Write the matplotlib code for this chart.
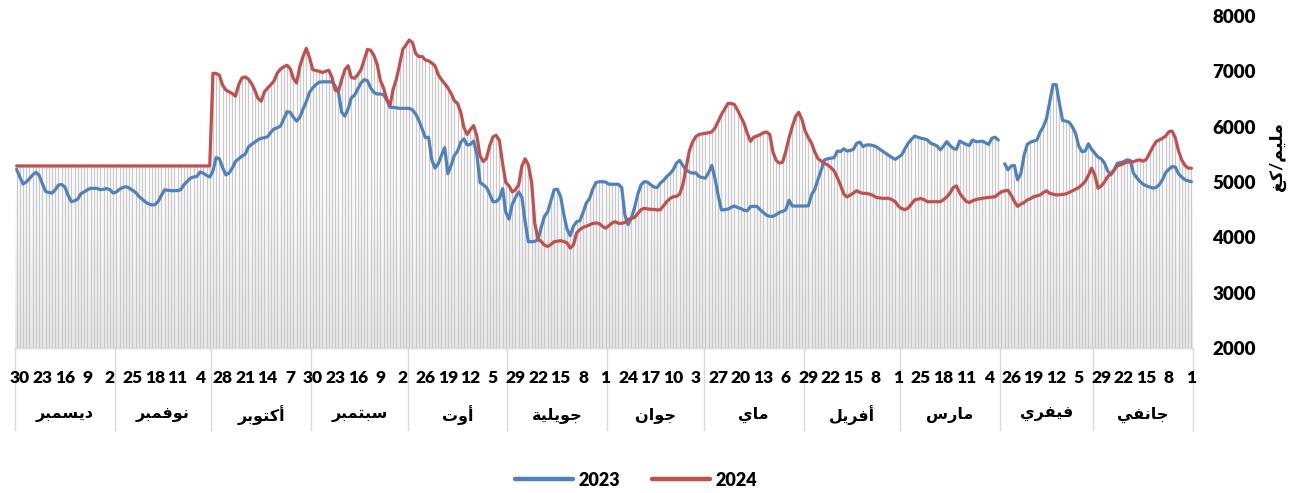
import numpy as np
import matplotlib
matplotlib.use("Agg")
import matplotlib.pyplot as plt
from matplotlib.colors import LinearSegmentedColormap
from matplotlib.lines import Line2D
import matplotlib.transforms as mtransforms

plt.rcParams['font.family'] = ['Lato', 'DejaVu Sans']

nan = np.nan

months = ['جانفي', 'فيفري', 'مارس', 'أفريل', 'ماي', 'جوان',
          'جويلية', 'أوت', 'سبتمبر', 'أكتوبر', 'نوفمبر', 'ديسمبر']
month_days = [31, 29, 31, 30, 31, 30, 31, 31, 30, 31, 30, 31]

day_ticks = [1, 8, 15, 22, 29, 5, 12, 19, 26, 4, 11, 18, 25,
             1, 8, 15, 22, 29, 6, 13, 20, 27, 3, 10, 17, 24,
             1, 8, 15, 22, 29, 5, 12, 19, 26, 2, 9, 16, 23, 30,
             7, 14, 21, 28, 4, 11, 18, 25, 2, 9, 16, 23, 30]

y_label = 'مليم/كغ'
series_names = ['2023', '2024']

values_2023 = [
    5005, 5020, 5040, 5090, 5150, 5270, 5280, 5230, 5170, 5040,
    4950, 4900, 4890, 4910, 4930, 4960, 5010, 5080, 5160, 5390,
    5400, 5370, 5350, 5340, 5220, 5130, 5200, 5340, 5420, 5450,
    5520, 5590, 5690, 5560, 5550, 5650, 5880, 6000, 6080, 6100,
    6110, 6420, 6760, 6760, 6450, 6150, 6000, 5900, 5760, 5740,
    5720, 5680, 5480, 5150, 5040, 5300, 5290, 5220, 5330, nan,
    5760, 5810, 5790, 5680, 5710, 5740, 5730, 5730, 5760, 5660,
    5680, 5710, 5740, 5590, 5610, 5660, 5730, 5650, 5580, 5650,
    5680, 5700, 5760, 5780, 5790, 5810, 5830, 5770, 5700, 5600,
    5490, 5450, 5410, 5440, 5480, 5520, 5560, 5600, 5640, 5660,
    5670, 5670, 5640, 5720, 5700, 5590, 5570, 5560, 5600, 5550,
    5560, 5440, 5430, 5420, 5400, 5220, 5050, 4870, 4770, 4570,
    4566, 4566, 4566, 4566, 4566, 4670, 4500, 4470, 4450, 4410,
    4380, 4380, 4400, 4450, 4500, 4560, 4560, 4555, 4480, 4490,
    4520, 4540, 4566, 4540, 4510, 4500, 4494, 4750, 5060, 5300,
    5170, 5070, 5080, 5100, 5165, 5160, 5180, 5220, 5300, 5390,
    5340, 5220, 5150, 5100, 5030, 4980, 4900, 4910, 4950, 5000,
    5005, 4950, 4780, 4540, 4350, 4230, 4400, 4900, 4958, 4958,
    4958, 4960, 5000, 5005, 5005, 4990, 4870, 4700, 4620, 4450,
    4300, 4283, 4200, 4030, 4150, 4420, 4740, 4870, 4860, 4660,
    4460, 4380, 4180, 3960, 3925, 3921, 3921, 4280, 4720, 4820,
    4720, 4600, 4330, 4450, 4880, 4700, 4644, 4644, 4780, 4900,
    4950, 4990, 5500, 5740, 5680, 5670, 5780, 5720, 5560, 5480,
    5300, 5150, 5620, 5480, 5330, 5250, 5400, 5810, 5800, 5960,
    6110, 6230, 6300, 6331, 6331, 6331, 6331, 6340, 6349, 6350,
    6480, 6580, 6590, 6590, 6620, 6700, 6830, 6850, 6790, 6680,
    6570, 6520, 6320, 6190, 6260, 6620, 6730, 6812, 6812, 6812,
    6810, 6805, 6760, 6700, 6620, 6450, 6320, 6170, 6100, 6170,
    6260, 6270, 6140, 6010, 5980, 5960, 5900, 5820, 5800, 5790,
    5765, 5720, 5680, 5630, 5500, 5470, 5420, 5370, 5250, 5160,
    5130, 5260, 5420, 5440, 5200, 5090, 5120, 5160, 5180, 5100,
    5090, 5070, 5010, 4950, 4860, 4845, 4843, 4843, 4850, 4860,
    4760, 4650, 4590, 4585, 4605, 4640, 4690, 4740, 4810, 4850,
    4890, 4915, 4900, 4870, 4820, 4800, 4860, 4880, 4870, 4860,
    4885, 4886, 4886, 4860, 4820, 4790, 4690, 4660, 4645, 4760,
    4910, 4955, 4945, 4860, 4800, 4810, 4830, 4970, 5120, 5175,
    5130, 5060, 5000, 4965, 5090, 5230,
]

values_2024 = [
    5250, 5250, 5300, 5400, 5560, 5800, 5920, 5910, 5830, 5790,
    5760, 5730, 5630, 5520, 5410, 5375, 5400, 5390, 5367, 5367,
    5360, 5337, 5310, 5290, 5220, 5150, 5100, 5000, 4930, 4886,
    5126, 5250, 5120, 5010, 4950, 4900, 4870, 4840, 4810, 4785,
    4775, 4770, 4765, 4780, 4795, 4840, 4810, 4765, 4750, 4734,
    4700, 4675, 4630, 4600, 4560, 4650, 4760, 4850, 4840, 4825,
    4780, 4734, 4728, 4723, 4715, 4705, 4695, 4680, 4660, 4630,
    4650, 4720, 4800, 4930, 4900, 4800, 4730, 4680, 4644, 4644,
    4644, 4644, 4644, 4680, 4700, 4690, 4675, 4600, 4530, 4500,
    4520, 4560, 4644, 4680, 4705, 4705, 4705, 4715, 4723, 4760,
    4780, 4795, 4795, 4810, 4843, 4800, 4765, 4730, 4780, 4940,
    5080, 5200, 5260, 5307, 5340, 5380, 5420, 5540, 5700, 5800,
    5920, 6130, 6260, 6180, 6000, 5800, 5560, 5360, 5340, 5390,
    5540, 5860, 5905, 5890, 5855, 5830, 5810, 5735, 5880, 6060,
    6180, 6300, 6400, 6421, 6421, 6320, 6220, 6100, 5980, 5905,
    5890, 5879, 5870, 5860, 5820, 5720, 5560, 5250, 4950, 4780,
    4740, 4734, 4700, 4644, 4570, 4500, 4495, 4506, 4506, 4515,
    4524, 4500, 4430, 4360, 4340, 4325, 4270, 4253, 4253, 4283,
    4260, 4210, 4165, 4200, 4250, 4260, 4250, 4225, 4200, 4180,
    4140, 4080, 3860, 3805, 3900, 3925, 3939, 3930, 3921, 3870,
    3835, 3860, 3925, 3970, 4250, 5000, 5310, 5420, 5290, 4950,
    4860, 4820, 4930, 4990, 5330, 5750, 5845, 5815, 5660, 5430,
    5370, 5470, 5830, 6020, 5950, 5860, 5980, 6260, 6420, 6470,
    6600, 6700, 6780, 6850, 6940, 7100, 7150, 7190, 7204, 7270,
    7265, 7320, 7520, 7566, 7480, 7400, 7120, 6860, 6680, 6380,
    6500, 6700, 6840, 7130, 7290, 7380, 7397, 7210, 7030, 6940,
    6873, 6890, 7100, 7030, 6850, 6640, 6660, 6890, 7020, 7000,
    6980, 7000, 7015, 7030, 7250, 7415, 7270, 7090, 6790, 6870,
    7050, 7110, 7083, 7040, 6970, 6830, 6760, 6700, 6630, 6460,
    6510, 6660, 6780, 6860, 6900, 6880, 6760, 6550, 6600, 6630,
    6665, 6750, 6930, 6963, 6963, 5290, 5290, 5290, 5290, 5290,
    5290, 5290, 5290, 5290, 5290, 5290, 5290, 5290, 5290, 5290,
    5290, 5290, 5290, 5290, 5290, 5290, 5290, 5290, 5290, 5290,
    5290, 5290, 5290, 5290, 5290, 5290, 5290, 5290, 5290, 5290,
    5290, 5290, 5290, 5290, 5290, 5290, 5290, 5290, 5290, 5290,
    5290, 5290, 5290, 5290, 5290, 5290, 5290, 5290, 5290, 5290,
    5290, 5290, 5290, 5290, 5290, 5290,
]

# ---------- Arabic shaping helper (matplotlib has no complex text layout) ----------
_FORMS = {
    'ا': (0xFE8D, 0xFE8E, None, None), 'أ': (0xFE83, 0xFE84, None, None),
    'ب': (0xFE8F, 0xFE90, 0xFE91, 0xFE92), 'ة': (0xFE93, 0xFE94, None, None),
    'ت': (0xFE95, 0xFE96, 0xFE97, 0xFE98), 'ج': (0xFE9D, 0xFE9E, 0xFE9F, 0xFEA0),
    'د': (0xFEA9, 0xFEAA, None, None), 'ر': (0xFEAD, 0xFEAE, None, None),
    'س': (0xFEB1, 0xFEB2, 0xFEB3, 0xFEB4), 'غ': (0xFECD, 0xFECE, 0xFECF, 0xFED0),
    'ف': (0xFED1, 0xFED2, 0xFED3, 0xFED4), 'ك': (0xFED9, 0xFEDA, 0xFEDB, 0xFEDC),
    'ل': (0xFEDD, 0xFEDE, 0xFEDF, 0xFEE0), 'م': (0xFEE1, 0xFEE2, 0xFEE3, 0xFEE4),
    'ن': (0xFEE5, 0xFEE6, 0xFEE7, 0xFEE8), 'و': (0xFEED, 0xFEEE, None, None),
    'ي': (0xFEF1, 0xFEF2, 0xFEF3, 0xFEF4),
}
_RIGHT_ONLY = set('اأةدرو')


def shape_ar(s):
    out = []
    for k, c in enumerate(s):
        if c not in _FORMS:
            out.append(c)
            continue
        prev = s[k - 1] if k > 0 else None
        nxt = s[k + 1] if k + 1 < len(s) else None
        jp = prev in _FORMS and prev not in _RIGHT_ONLY
        jn = (c not in _RIGHT_ONLY) and (nxt in _FORMS)
        f = _FORMS[c]
        if jp and jn:
            g = f[3]
        elif jp:
            g = f[1]
        elif jn:
            g = f[2]
        else:
            g = f[0]
        out.append(chr(g))
    return ''.join(reversed(out))


# ---------- figure ----------
W, H = 1297, 493
fig = plt.figure(figsize=(W / 100, H / 100), dpi=100)
x0, x1, ytop, ybot = 15, 1193, 16, 348
ax = fig.add_axes([x0 / W, (H - ybot) / H, (x1 - x0) / W, (ybot - ytop) / H])

b = np.array(values_2023, dtype=float)
r = np.array(values_2024, dtype=float)
n = len(r)
x = np.arange(n)

# background gradient
cmap = LinearSegmentedColormap.from_list('bg', ['#ffffff', '#ffffff', '#e8e8e8'])
ax.imshow(np.linspace(0, 1, 256).reshape(-1, 1), cmap=cmap, aspect='auto',
          extent=[n - 0.5, -0.5, 2000, 8000], origin='upper', zorder=0)

# drop lines
top = np.fmax(b, r)
ax.vlines(x, 2000, top, colors='#c9c9c9', linewidth=0.9, zorder=1)

ax.plot(x, b, color='#4f81bd', lw=2.3, solid_capstyle='round', solid_joinstyle='round', zorder=3)
ax.plot(x, r, color='#c0504d', lw=2.3, solid_capstyle='round', solid_joinstyle='round', zorder=4)

ax.set_xlim(n - 0.5, -0.5)
ax.set_ylim(2000, 8000)

for s in ['top', 'left', 'right']:
    ax.spines[s].set_visible(False)
ax.spines['bottom'].set_color('#d9d9d9')
ax.spines['bottom'].set_linewidth(1)

ax.yaxis.tick_right()
ax.set_yticks(range(2000, 8001, 1000))
ax.tick_params(axis='y', length=0, pad=14)
for lab in ax.get_yticklabels():
    lab.set_fontweight('heavy')
    lab.set_fontsize(13.5)
ax.set_xticks([])

trans = mtransforms.blended_transform_factory(ax.transData, ax.transAxes)
axh = ybot - ytop

# day labels
for k, d in enumerate(day_ticks):
    ax.text(7 * k, -(378 - ybot) / axh, str(d), transform=trans, ha='center', va='center',
            fontsize=12.5, fontweight='heavy', color='black', clip_on=False)

# month separators and labels
edges = np.concatenate([[0], np.cumsum(month_days)]) - 0.5
for e in edges:
    ax.plot([e, e], [0, -(430 - ybot) / axh], transform=trans, color='#d9d9d9', lw=1, clip_on=False)
for m, name in enumerate(months):
    mid = (edges[m] + edges[m + 1]) / 2
    ax.text(mid, -(415 - ybot) / axh, shape_ar(name), transform=trans, ha='center', va='center',
            fontsize=11.5, fontweight='bold', color='black', clip_on=False)

# y label
fig.text(1277 / W, 1 - 157 / H, shape_ar(y_label), rotation=90, ha='center', va='center',
         fontsize=12.5, fontweight='bold')

# legend
handles = [Line2D([], [], color='#4f81bd', lw=3.2, solid_capstyle='round'),
           Line2D([], [], color='#c0504d', lw=3.2, solid_capstyle='round')]
fig.legend(handles, series_names, loc='center', bbox_to_anchor=(636 / W, 1 - 480 / H), ncol=2,
           frameon=False, prop={'weight': 'heavy', 'size': 13}, handlelength=3.2,
           handletextpad=0.3, columnspacing=1.8)

fig.savefig('out.png', dpi=100)
